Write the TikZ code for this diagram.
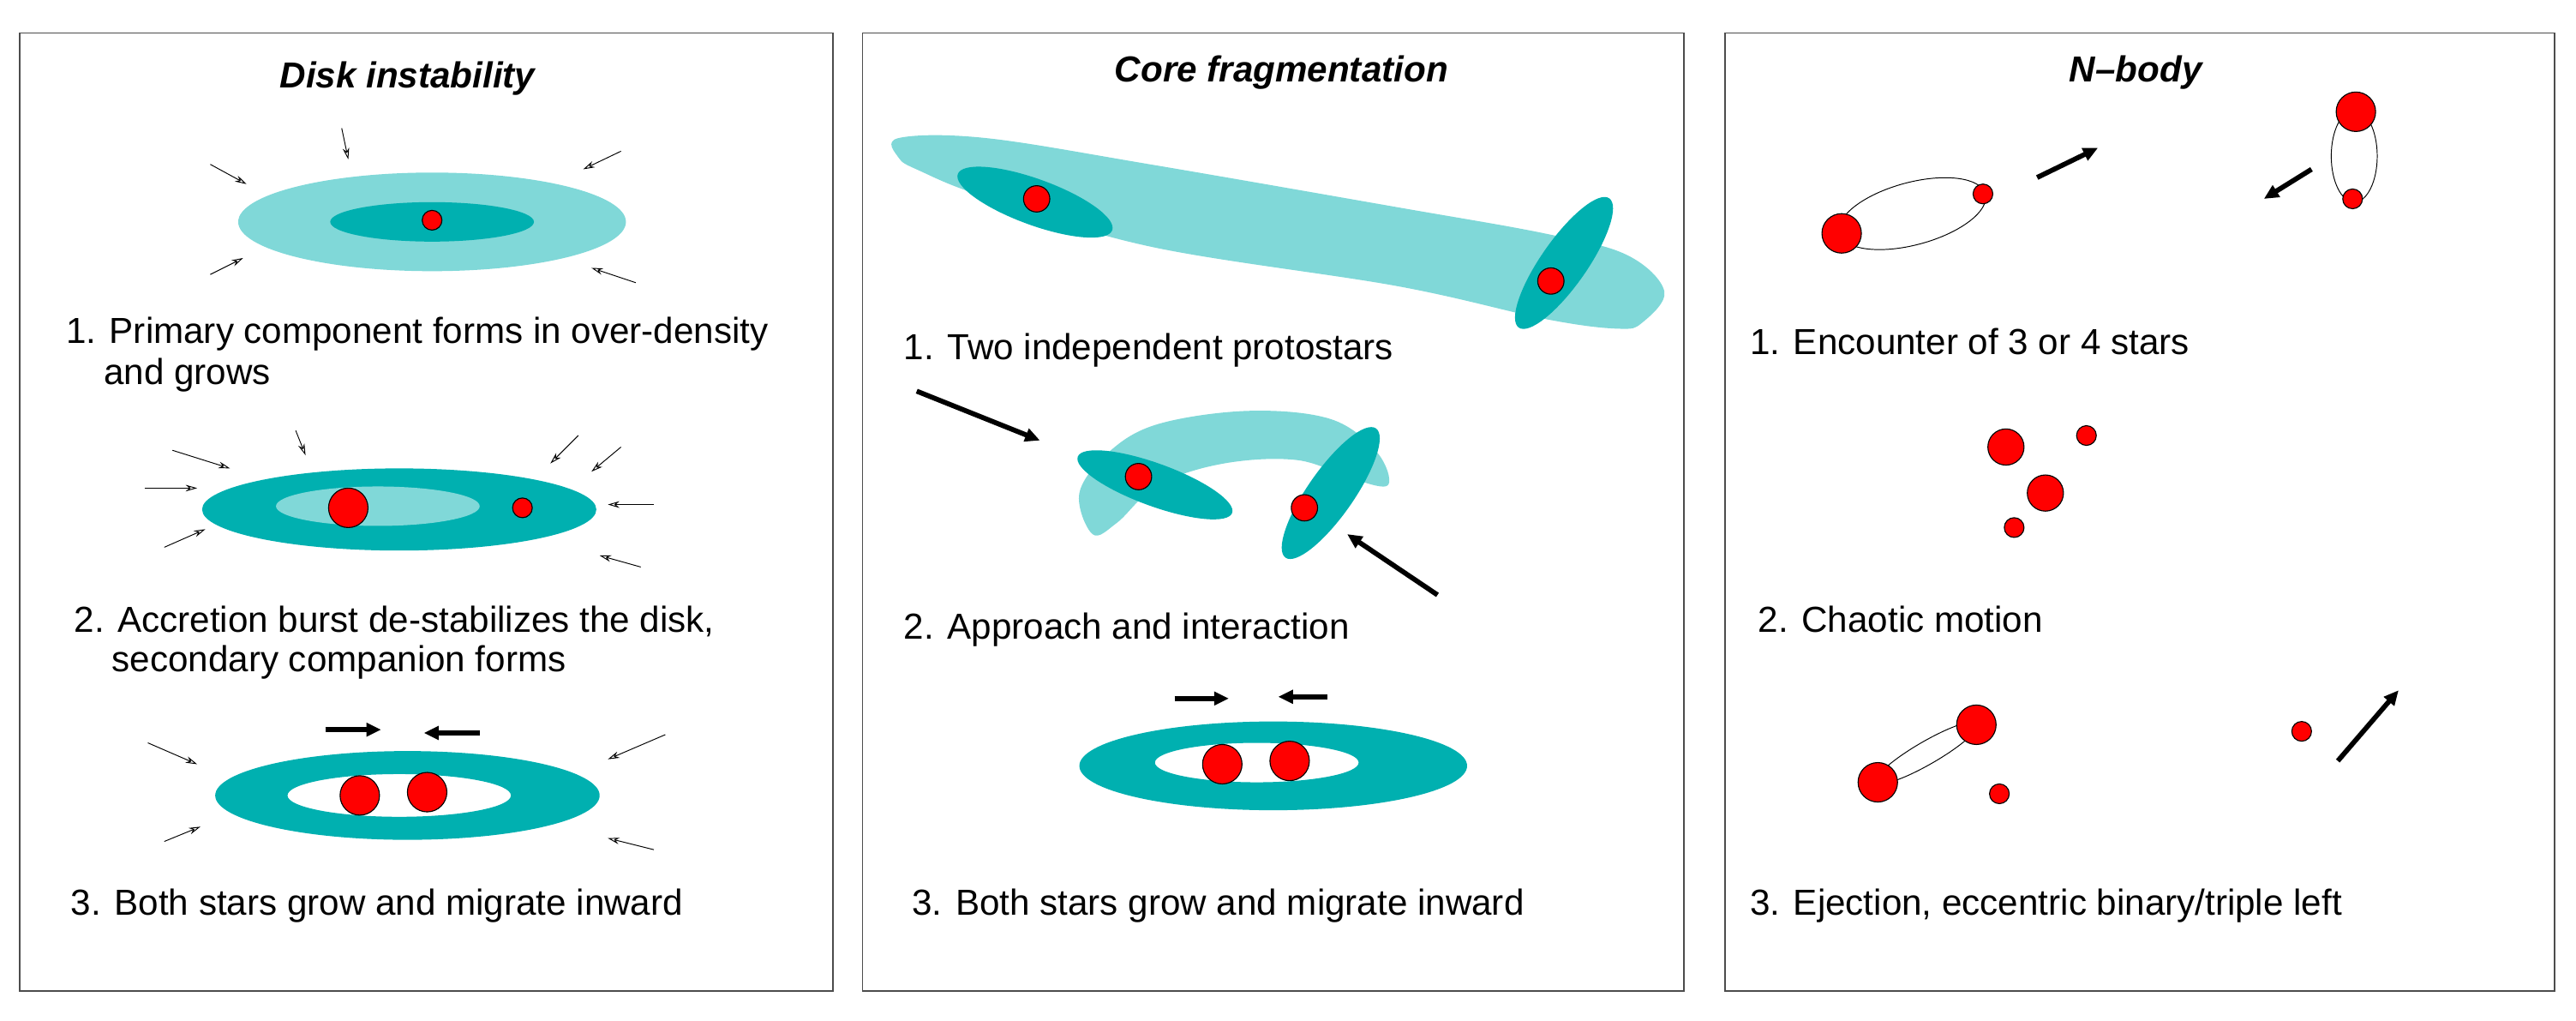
\documentclass[tikz,border=0pt]{standalone}
\usepackage{fontspec}
\setmainfont{Liberation Sans}
\usetikzlibrary{arrows.meta}
\definecolor{lt}{RGB}{128,216,216}
\definecolor{dk}{RGB}{0,176,176}
\begin{document}
\begin{tikzpicture}[x=1pt,y=-1pt,
 panel/.style={draw=black!70,line width=0.8pt},
 title/.style={font=\fontsize{22}{26}\selectfont\bfseries\itshape},
 txt/.style={font=\fontsize{22}{26}\selectfont,anchor=west,inner sep=0},
 star/.style={draw=black,fill=red,line width=0.6pt},
 thin/.style={-{Stealth[length=7pt,width=4pt,open]},line width=0.5pt},
 bold/.style={-{Triangle[length=9pt,width=8pt]},line width=3pt},
 orbit/.style={draw=black,line width=0.5pt}]
\useasboundingbox (0,0) rectangle (1568,621);
\draw[panel] (12,20) rectangle (507,603);
\draw[panel] (525,20) rectangle (1025,603);
\draw[panel] (1050,20) rectangle (1555,603);
% left
\node[title] (t1) at (248,48) {Disk instability};
\fill[lt] (263,135) ellipse [x radius=118,y radius=30];
\fill[dk] (263,135) ellipse [x radius=62,y radius=12];
\draw[star] (263,134) circle (6);
\coordinate (a1) at (128,100); \coordinate (b1) at (150,112); \draw[thin] (a1)--(b1);
\coordinate (a2) at (208,78); \coordinate (b2) at (212,97); \draw[thin] (a2)--(b2);
\coordinate (a3) at (378,92); \coordinate (b3) at (355,103); \draw[thin] (a3)--(b3);
\coordinate (a4) at (128,167); \coordinate (b4) at (148,157); \draw[thin] (a4)--(b4);
\coordinate (a5) at (387,172); \coordinate (b5) at (360,163); \draw[thin] (a5)--(b5);
\node[txt] (l1) at (40,203) {1. Primary component forms in over-density};
\node[txt] (l1b) at (63,228) {and grows};
\fill[dk] (243,310) ellipse [x radius=120,y radius=25];
\fill[lt] (230,308) ellipse [x radius=62,y radius=12];
\draw[star] (212,309) circle (12);
\draw[star] (318,309) circle (6);
\foreach \p/\q in {{(105,274)}/{(140,285)},{(180,262)}/{(186,277)},{(352,265)}/{(335,282)},{(378,272)}/{(360,287)},{(88,297)}/{(120,297)},{(398,307)}/{(370,307)},{(100,333)}/{(125,322)},{(390,345)}/{(365,338)}}
 \draw[thin] \p -- \q;
\node[txt] (l2) at (45,378) {2. Accretion burst de-stabilizes the disk,};
\node[txt] (l2b) at (68,403) {secondary companion forms};
\fill[dk,even odd rule] (248,484) ellipse [x radius=117,y radius=27] (243,484) ellipse [x radius=68,y radius=13];
\draw[star] (219,484) circle (12);
\draw[star] (260,482) circle (12);
\draw[bold] (198,444) -- (232,444);
\draw[bold] (292,446) -- (258,446);
\foreach \p/\q in {{(90,452)}/{(120,465)},{(405,447)}/{(370,462)},{(100,512)}/{(122,503)},{(398,517)}/{(370,510)}}
 \draw[thin] \p -- \q;
\node[txt] (l3) at (43,551) {3. Both stars grow and migrate inward};
% middle
\node[title] (t2) at (780,44) {Core fragmentation};
\fill[lt] plot[smooth cycle,tension=0.6] coordinates {(547,84) (600,84) (700,100) (850,126) (940,142) (990,155) (1013,177) (1000,196) (985,200) (940,194) (850,174) (700,150) (600,120) (560,104) (547,96)};
\fill[dk,rotate around={-20:(630,123)}] (630,123) ellipse [x radius=50,y radius=14];
\draw[star] (631,121) circle (8);
\fill[dk,rotate around={55:(952,160)}] (952,160) ellipse [x radius=48,y radius=14];
\draw[star] (944,171) circle (8);
\node[txt] (m1) at (550,213) {1. Two independent protostars};
\fill[lt] plot[smooth cycle,tension=0.6] coordinates {(657,300) (675,275) (705,258) (760,250) (810,255) (838,275) (845,295) (825,292) (790,280) (745,282) (705,295) (680,318) (665,325)};
\fill[dk,rotate around={-20:(703,295)}] (703,295) ellipse [x radius=50,y radius=13];
\draw[star] (693,290) circle (8);
\fill[dk,rotate around={55:(810,300)}] (810,300) ellipse [x radius=48,y radius=14];
\draw[star] (794,309) circle (8);
\draw[bold] (558,238) -- (633,268);
\draw[bold] (875,362) -- (820,325);
\node[txt] (m2) at (550,383) {2. Approach and interaction};
\fill[dk,even odd rule] (775,466) ellipse [x radius=118,y radius=27] (765,464) ellipse [x radius=62,y radius=12];
\draw[star] (744,465) circle (12);
\draw[star] (785,463) circle (12);
\draw[bold] (715,425) -- (748,425);
\draw[bold] (808,424) -- (778,424);
\node[txt] (m3) at (555,551) {3. Both stars grow and migrate inward};
% right
\node[title] (t3) at (1300,44) {N\textendash body};
\draw[orbit,rotate around={15:(1164,130)}] (1164,130) ellipse [x radius=46,y radius=19];
\draw[star] (1121,142) circle (12);
\draw[star] (1207,118) circle (6);
\draw[bold] (1240,108) -- (1277,90);
\draw[orbit] (1433,95) ellipse [x radius=14,y radius=28];
\draw[star] (1434,68) circle (12);
\draw[star] (1432,121) circle (6);
\draw[bold] (1407,103) -- (1378,121);
\node[txt] (r1) at (1065,208) {1. Encounter of 3 or 4 stars};
\draw[star] (1221,272) circle (11);
\draw[star] (1270,265) circle (6);
\draw[star] (1245,300) circle (11);
\draw[star] (1226,321) circle (6);
\node[txt] (r2) at (1070,377) {2. Chaotic motion};
\draw[orbit,rotate around={30:(1173,458)}] (1173,458) ellipse [x radius=36,y radius=7];
\draw[star] (1143,476) circle (12);
\draw[star] (1203,441) circle (12);
\draw[star] (1217,483) circle (6);
\draw[star] (1401,445) circle (6);
\draw[bold] (1423,463) -- (1460,420);
\node[txt] (r3) at (1065,551) {3. Ejection, eccentric binary/triple left};
\end{tikzpicture}
\end{document}
